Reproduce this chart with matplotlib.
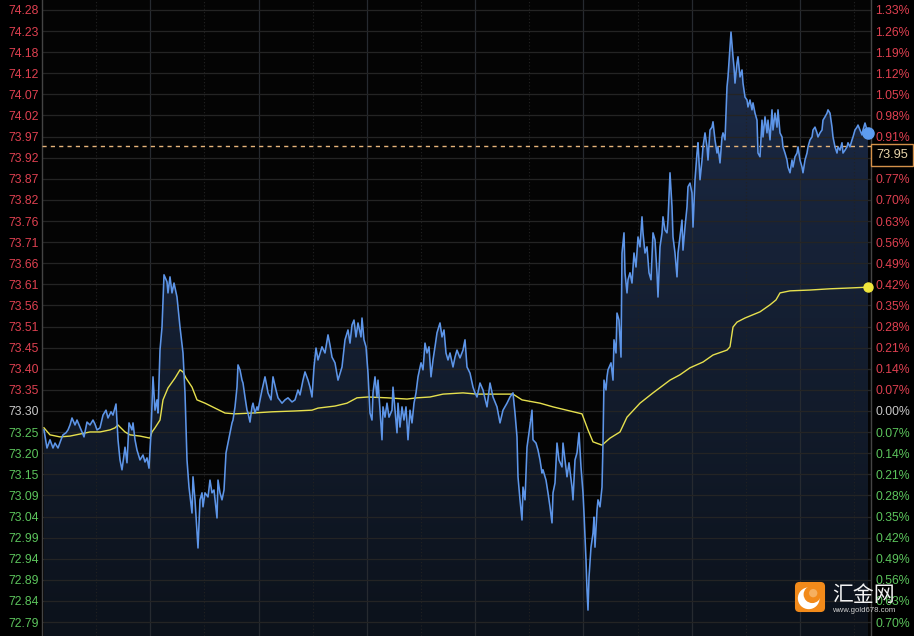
import numpy as np
import matplotlib
matplotlib.use("Agg")
import matplotlib.pyplot as plt
import matplotlib.transforms as mtransforms
from matplotlib.colors import LinearSegmentedColormap
from matplotlib.patches import FancyBboxPatch, Circle

# ---------------- data ----------------
prev_close = 73.30

price_labels = ["74.28", "74.23", "74.18", "74.12", "74.07", "74.02", "73.97", "73.92",
                "73.87", "73.82", "73.76", "73.71", "73.66", "73.61", "73.56", "73.51",
                "73.45", "73.40", "73.35", "73.30", "73.25", "73.20", "73.15", "73.09",
                "73.04", "72.99", "72.94", "72.89", "72.84", "72.79"]
pct_levels = [1.33, 1.26, 1.19, 1.12, 1.05, 0.98, 0.91, 0.84, 0.77, 0.70, 0.63, 0.56,
              0.49, 0.42, 0.35, 0.28, 0.21, 0.14, 0.07, 0.00, -0.07, -0.14, -0.21,
              -0.28, -0.35, -0.42, -0.49, -0.56, -0.63, -0.70]
pct_labels = ["1.33%", "1.26%", "1.19%", "1.12%", "1.05%", "0.98%", "0.91%", "0.84%",
              "0.77%", "0.70%", "0.63%", "0.56%", "0.49%", "0.42%", "0.35%", "0.28%",
              "0.21%", "0.14%", "0.07%", "0.00%", "0.07%", "0.14%", "0.21%", "0.28%",
              "0.35%", "0.42%", "0.49%", "0.56%", "0.63%", "0.70%"]

ref_line = 73.945
ref_label = "73.95"

# (minute, price) of the traded price
price_ticks = [
    (2, 73.254), (5, 73.210), (8, 73.230), (11, 73.210), (13, 73.222), (16, 73.210),
    (19, 73.230), (21, 73.242), (24, 73.247), (26, 73.254), (28, 73.266), (30, 73.283),
    (33, 73.266), (35, 73.278), (38, 73.261), (40, 73.249), (42, 73.237), (45, 73.273),
    (48, 73.266), (51, 73.278), (53, 73.268), (55, 73.254), (58, 73.259), (61, 73.290),
    (64, 73.302), (66, 73.283), (69, 73.298), (71, 73.290), (74, 73.317), (76, 73.230),
    (78, 73.181), (80, 73.157), (83, 73.212), (85, 73.174), (87, 73.271), (90, 73.254),
    (91, 73.271), (93, 73.230), (95, 73.205), (98, 73.181), (101, 73.193), (103, 73.176),
    (105, 73.186), (107, 73.161), (109, 73.247), (111, 73.383), (113, 73.302), (115, 73.327),
    (116, 73.295), (118, 73.448), (120, 73.504), (122, 73.631), (125, 73.614), (126, 73.587),
    (128, 73.626), (130, 73.587), (132, 73.611), (135, 73.577), (138, 73.504), (141, 73.441),
    (143, 73.344), (145, 73.181), (147, 73.115), (150, 73.052), (151, 73.140), (153, 73.084),
    (156, 72.967), (158, 73.084), (160, 73.101), (161, 73.067), (163, 73.101), (166, 73.091),
    (168, 73.132), (170, 73.101), (172, 73.108), (175, 73.040), (176, 73.132), (178, 73.101),
    (180, 73.084), (182, 73.108), (184, 73.198), (186, 73.222), (188, 73.247), (190, 73.271),
    (191, 73.278), (193, 73.310), (195, 73.358), (196, 73.412), (198, 73.400), (200, 73.375),
    (201, 73.368), (203, 73.334), (205, 73.302), (206, 73.295), (208, 73.273), (210, 73.310),
    (211, 73.319), (213, 73.295), (215, 73.310), (216, 73.302), (218, 73.327), (220, 73.351),
    (223, 73.383), (225, 73.358), (226, 73.344), (229, 73.327), (231, 73.383), (234, 73.351),
    (236, 73.332), (240, 73.319), (243, 73.327), (246, 73.332), (250, 73.322), (253, 73.327),
    (256, 73.351), (258, 73.339), (261, 73.375), (263, 73.395), (266, 73.375), (268, 73.358),
    (270, 73.334), (272, 73.407), (274, 73.453), (276, 73.424), (280, 73.456), (283, 73.441),
    (286, 73.485), (288, 73.460), (290, 73.431), (293, 73.417), (296, 73.375), (300, 73.407),
    (303, 73.473), (306, 73.497), (308, 73.465), (310, 73.509), (312, 73.521), (314, 73.480),
    (316, 73.514), (319, 73.480), (320, 73.526), (322, 73.473), (324, 73.456), (326, 73.392),
    (328, 73.295), (330, 73.278), (331, 73.344), (333, 73.383), (335, 73.334), (336, 73.375),
    (338, 73.302), (340, 73.230), (341, 73.310), (343, 73.285), (345, 73.319), (347, 73.285),
    (350, 73.302), (351, 73.358), (353, 73.302), (355, 73.247), (356, 73.319), (358, 73.261),
    (360, 73.310), (362, 73.278), (364, 73.310), (366, 73.230), (368, 73.302), (370, 73.271),
    (372, 73.319), (374, 73.344), (376, 73.383), (379, 73.417), (381, 73.400), (383, 73.465),
    (385, 73.441), (387, 73.456), (389, 73.383), (391, 73.424), (393, 73.456), (395, 73.490),
    (398, 73.514), (400, 73.480), (402, 73.497), (404, 73.441), (406, 73.424), (408, 73.441),
    (411, 73.407), (413, 73.431), (415, 73.448), (418, 73.429), (421, 73.448), (423, 73.473),
    (425, 73.407), (428, 73.392), (431, 73.358), (433, 73.344), (435, 73.334), (438, 73.368),
    (441, 73.351), (445, 73.310), (448, 73.368), (451, 73.334), (455, 73.310), (458, 73.271),
    (461, 73.302), (465, 73.319), (468, 73.334), (471, 73.344), (473, 73.295), (475, 73.237),
    (476, 73.140), (478, 73.084), (480, 73.035), (481, 73.115), (483, 73.084), (485, 73.212),
    (487, 73.247), (490, 73.302), (491, 73.230), (494, 73.222), (496, 73.205), (498, 73.181),
    (500, 73.149), (501, 73.157), (504, 73.132), (506, 73.101), (508, 73.067), (510, 73.028),
    (511, 73.101), (513, 73.125), (515, 73.222), (517, 73.181), (520, 73.164), (521, 73.222),
    (523, 73.181), (525, 73.140), (527, 73.174), (530, 73.115), (531, 73.084), (533, 73.181),
    (535, 73.198), (537, 73.247), (539, 73.164), (541, 73.101), (542, 73.052), (544, 72.938),
    (545, 72.865), (546, 72.816), (547, 72.896), (549, 72.969), (551, 73.003), (552, 73.042),
    (553, 72.969), (555, 73.059), (556, 73.084), (558, 73.067), (560, 73.115), (561, 73.222),
    (562, 73.375), (564, 73.351), (565, 73.383), (566, 73.400), (569, 73.417), (571, 73.375),
    (572, 73.473), (574, 73.441), (575, 73.538), (577, 73.521), (579, 73.431), (580, 73.684),
    (582, 73.733), (583, 73.636), (585, 73.587), (586, 73.619), (588, 73.636), (590, 73.611),
    (592, 73.684), (594, 73.650), (596, 73.723), (598, 73.699), (600, 73.772), (601, 73.733),
    (603, 73.684), (605, 73.699), (607, 73.636), (609, 73.619), (611, 73.733), (613, 73.716),
    (615, 73.636), (616, 73.577), (618, 73.699), (620, 73.733), (621, 73.772), (623, 73.740),
    (625, 73.733), (626, 73.764), (628, 73.879), (630, 73.796), (631, 73.723), (633, 73.684),
    (635, 73.626), (636, 73.684), (638, 73.723), (640, 73.764), (641, 73.691), (643, 73.747),
    (645, 73.796), (646, 73.845), (648, 73.854), (650, 73.830), (651, 73.747), (653, 73.862),
    (655, 73.927), (656, 73.952), (658, 73.862), (660, 73.910), (661, 73.942), (663, 73.976),
    (665, 73.942), (666, 73.910), (668, 73.983), (670, 73.990), (671, 74.003), (673, 73.959),
    (675, 73.927), (676, 73.942), (678, 73.903), (680, 73.966), (681, 73.976), (683, 73.959),
    (685, 74.088), (686, 74.112), (688, 74.185), (689, 74.221), (691, 74.161), (692, 74.136),
    (693, 74.097), (695, 74.146), (696, 74.161), (698, 74.112), (700, 74.129), (701, 74.097),
    (703, 74.063), (705, 74.056), (706, 74.039), (708, 74.056), (710, 74.032), (711, 74.049),
    (713, 74.024), (715, 74.007), (716, 73.927), (718, 73.918), (720, 74.007), (721, 73.966),
    (723, 74.015), (725, 73.976), (726, 74.007), (728, 73.959), (730, 74.032), (731, 73.983),
    (733, 74.024), (735, 73.990), (736, 74.032), (738, 73.976), (740, 73.966), (741, 73.942),
    (743, 73.927), (745, 73.910), (746, 73.893), (748, 73.879), (750, 73.910), (751, 73.893),
    (753, 73.918), (755, 73.927), (756, 73.942), (758, 73.910), (760, 73.893), (761, 73.879),
    (763, 73.910), (765, 73.927), (766, 73.942), (768, 73.959), (770, 73.966), (771, 73.983),
    (773, 73.990), (775, 73.976), (776, 73.966), (778, 73.976), (780, 73.983), (781, 74.007),
    (783, 74.015), (785, 74.024), (786, 74.032), (788, 74.024), (790, 73.990), (791, 73.966),
    (793, 73.942), (795, 73.927), (796, 73.942), (798, 73.934), (800, 73.952), (801, 73.927),
    (803, 73.934), (805, 73.942), (806, 73.952), (808, 73.942), (810, 73.959), (811, 73.966),
    (813, 73.983), (815, 73.990), (816, 73.995), (818, 73.983), (820, 73.971), (821, 73.983),
    (823, 74.000), (825, 73.983), (826, 73.976),
]

# (minute, price) of the average price line
avg_ticks = [
    (2, 73.259), (8, 73.242), (18, 73.237), (28, 73.239), (38, 73.244), (48, 73.249),
    (58, 73.249), (68, 73.254), (73, 73.259), (76, 73.266), (78, 73.261), (83, 73.249),
    (88, 73.242), (98, 73.239), (108, 73.234), (110, 73.249), (113, 73.259), (118, 73.278),
    (121, 73.327), (126, 73.356), (133, 73.380), (138, 73.400), (141, 73.395), (144, 73.380),
    (150, 73.358), (155, 73.327), (163, 73.319), (173, 73.307), (183, 73.295), (193, 73.293),
    (210, 73.295), (230, 73.298), (253, 73.300), (270, 73.302), (276, 73.307), (293, 73.312),
    (305, 73.319), (315, 73.332), (326, 73.334), (345, 73.332), (365, 73.329), (375, 73.332),
    (388, 73.334), (401, 73.341), (421, 73.344), (435, 73.341), (471, 73.341), (480, 73.327),
    (498, 73.319), (511, 73.310), (528, 73.300), (540, 73.293), (546, 73.254), (551, 73.225),
    (560, 73.217), (568, 73.234), (578, 73.249), (585, 73.285), (598, 73.319), (611, 73.344),
    (628, 73.375), (638, 73.388), (648, 73.405), (661, 73.419), (671, 73.436), (685, 73.448),
    (688, 73.456), (691, 73.504), (695, 73.516), (703, 73.526), (718, 73.541), (728, 73.558),
    (734, 73.570), (738, 73.587), (748, 73.592), (768, 73.594), (788, 73.597), (808, 73.599),
    (826, 73.601),
]

session_minutes = 829
grid_step = 108.3

# ---------------- figure ----------------
W, H = 914, 636
fig = plt.figure(figsize=(W / 100, H / 100), dpi=100, facecolor="black")
ax = fig.add_axes([42 / W, 0.0, 829 / W, 1.0])
ax.set_facecolor("#040404")

FONT = ["Liberation Sans", "DejaVu Sans"]
RED, GREEN, NEUTRAL = "#de4050", "#5cc45c", "#c8c8c8"

levels = [prev_close * (1 + p / 100) for p in pct_levels]
step = levels[0] - levels[1]
ymax = levels[0] + step * 0.47
ymin = levels[-1] - step * 0.66

t = np.array([p[0] for p in price_ticks], dtype=float)
pr = np.array([p[1] for p in price_ticks])
ta = np.array([p[0] for p in avg_ticks], dtype=float)
pa = np.array([p[1] for p in avg_ticks])

# gradient fill under the price line
coll = ax.fill_between(t, pr, ymin, color="none", lw=0)
cmap = LinearSegmentedColormap.from_list("fillg", ["#0c121b", "#1d2c49"])
grad = np.linspace(0, 1, 256).reshape(-1, 1)
im = ax.imshow(grad, extent=[0, session_minutes, ymin, ymax], origin="lower",
               cmap=cmap, aspect="auto", zorder=1, interpolation="bilinear")
im.set_clip_path(coll.get_paths()[0], transform=ax.transData)
ax.set_xlim(0, session_minutes)
ax.set_ylim(ymin, ymax)

# grid
ax.set_yticks(levels)
ax.set_yticklabels(price_labels)
major_x = np.arange(1, 8) * grid_step
minor_x = np.arange(0.5, 8, 1.0) * grid_step
ax.set_xticks(major_x)
ax.set_xticks(minor_x, minor=True)
ax.set_xticklabels([])
ax.grid(axis="y", color="#242424", lw=0.9)
ax.grid(axis="x", which="major", color="#262a30", lw=0.9)
ax.grid(axis="x", which="minor", color="#222222", lw=0.8, ls=(0, (1, 2)))
for gl in ax.get_ygridlines() + ax.get_xgridlines() + ax.xaxis.get_minorticklines():
    gl.set_zorder(2)
ax.tick_params(axis="both", which="both", length=0)
ax.tick_params(axis="y", pad=2, labelsize=8.8)

for lbl, p in zip(ax.get_yticklabels(), pct_levels):
    lbl.set_color(RED if p > 0 else (GREEN if p < 0 else NEUTRAL))
    lbl.set_family(FONT)

for side in ["top", "bottom"]:
    ax.spines[side].set_visible(False)
for side in ["left", "right"]:
    ax.spines[side].set_color("#444444")
    ax.spines[side].set_linewidth(1)

# right axis
ax2 = ax.twinx()
ax2.set_ylim(ymin, ymax)
ax2.set_yticks(levels)
ax2.set_yticklabels(pct_labels)
ax2.tick_params(axis="y", length=0, pad=3, labelsize=8.8)
for lbl, p in zip(ax2.get_yticklabels(), pct_levels):
    lbl.set_color(RED if p > 0 else (GREEN if p < 0 else NEUTRAL))
    lbl.set_family(FONT)
for s in ax2.spines.values():
    s.set_visible(False)

# reference dashed line
ax.axhline(ref_line, color="#e6b47a", lw=1.0, ls=(0, (3, 3)), zorder=3)

# lines
ax.plot(t, pr, color="#5d95e8", lw=1.15, zorder=5)
ax.plot(ta, pa, color="#e6e04e", lw=1.0, zorder=4)
ax.plot(t[-1], pr[-1], "o", ms=8, color="#5d9cf0", zorder=6, clip_on=False)
ax.plot(ta[-1], pa[-1], "o", ms=6.5, color="#f0e63c", zorder=6, clip_on=False)

# price box on the right (covers the label behind it, as in the original)
blend = mtransforms.blended_transform_factory(fig.transFigure, ax.transData)
box_tr = mtransforms.offset_copy(blend, fig=fig, y=-9, units="dots")
fig.text(876 / W, ref_line, ref_label, transform=box_tr, ha="left", va="center",
         fontsize=9.2, family=FONT, color="#e8d4aa", zorder=10,
         bbox=dict(boxstyle="square,pad=0.4", fc="black", ec="#d4914a", lw=1.0))

# logo
lax = fig.add_axes([794 / W, 1 - 613 / H, 32 / W, 32 / H])
lax.set_xlim(0, 1)
lax.set_ylim(0, 1)
lax.axis("off")
lax.set_zorder(20)
lax.add_patch(FancyBboxPatch((0.03, 0.03), 0.94, 0.94,
                             boxstyle="round,pad=0,rounding_size=0.14",
                             fc="#f28a1a", ec="none"))
lax.add_patch(Circle((0.46, 0.46), 0.34, fc="white", ec="none"))
lax.add_patch(Circle((0.57, 0.58), 0.27, fc="#f28a1a", ec="none"))
lax.add_patch(Circle((0.60, 0.62), 0.13, fc="#f6b060", ec="none"))

fig.text(832 / W, 1 - 595 / H, "汇金网", ha="left", va="center", fontsize=15,
         color="#f2f2f2", family=["Noto Sans CJK SC", "DejaVu Sans"], zorder=21)
fig.text(832 / W, 1 - 610 / H, "www.gold678.com", ha="left", va="center",
         fontsize=5.6, color="#d0d0d0", family=FONT, zorder=21)

fig.savefig("out.png", dpi=100, facecolor="black")
